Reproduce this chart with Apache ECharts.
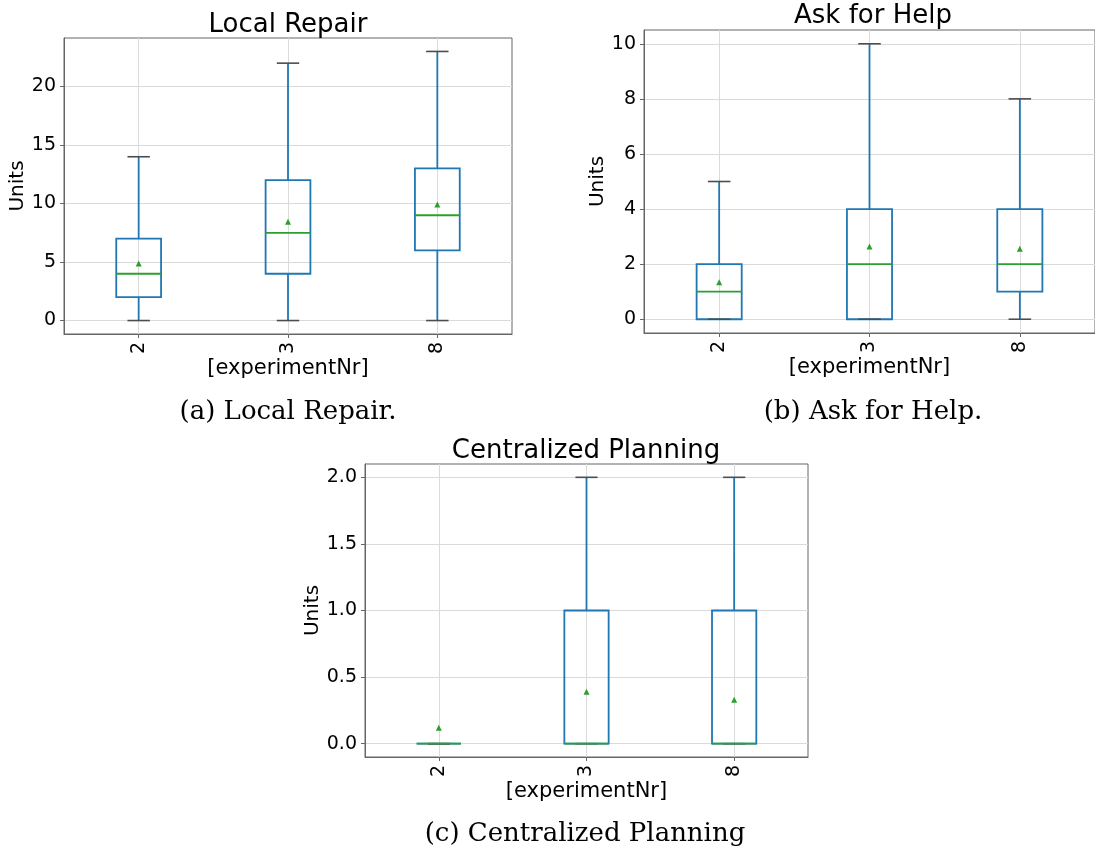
<!DOCTYPE html>
<html>
<head>
<meta charset="utf-8">
<script src="https://cdn.jsdelivr.net/npm/echarts@6/dist/echarts.min.js"></script>
<style>
html,body{margin:0;padding:0;background:#fff;}
#c{width:1095px;height:851px;}
</style>
</head>
<body>
<div id="c"></div>
<script>
// ---- data ----
const categories = ['2', '3', '8'];
// [whisker low, Q1, median, Q3, whisker high]
const localRepairBoxes = [[0, 2, 4, 7, 14], [0, 4, 7.5, 12, 22], [0, 6, 9, 13, 23]];
const localRepairMeans = [4.88, 8.45, 9.92];
const askForHelpBoxes = [[0, 0, 1, 2, 5], [0, 0, 2, 4, 10], [0, 1, 2, 4, 8]];
const askForHelpMeans = [1.34, 2.64, 2.56];
const centralizedBoxes = [[0, 0, 0, 0, 0], [0, 0, 0, 1, 2], [0, 0, 0, 1, 2]];
const centralizedMeans = [0.12, 0.39, 0.33];
const localRepairTicks = [0, 5, 10, 15, 20];
const askForHelpTicks = [0, 2, 4, 6, 8, 10];
const centralizedTicks = [0, 0.5, 1, 1.5, 2];
const panelTitles = ['Local Repair', 'Ask for Help', 'Centralized Planning'];
const captions = ['(a) Local Repair.', '(b) Ask for Help.', '(c) Centralized Planning'];
const xName = '[experimentNr]';
const yName = 'Units';

// ---- styles ----
const BLUE = '#1f77b4', GREEN = '#2ca02c', CAP = '#4d4d4d', FRAME = '#666', GRID = '#dadada';
const SANS = 'DejaVu Sans';

const panels = [
  {boxes: localRepairBoxes, means: localRepairMeans, ticks: localRepairTicks, min: -1.15, max: 24.15, fmt: v => String(v),
   grid: {left: 64, top: 38, width: 448, height: 296}, yGap: 34, xGap: 20},
  {boxes: askForHelpBoxes, means: askForHelpMeans, ticks: askForHelpTicks, min: -0.5, max: 10.5, fmt: v => String(v),
   grid: {left: 644, top: 30, width: 458, height: 303}, yGap: 36, xGap: 20},
  {boxes: centralizedBoxes, means: centralizedMeans, ticks: centralizedTicks, min: -0.1, max: 2.1, fmt: v => v.toFixed(1),
   grid: {left: 365, top: 464, width: 443, height: 293}, yGap: 40, xGap: 19}
];

function renderBox(params, api) {
  const idx = api.value(0);
  const band = api.size([1, 0])[0];
  const half = band * 0.15, capHalf = band * 0.075;
  const pLow = api.coord([idx, api.value(1)]);
  const pQ1 = api.coord([idx, api.value(2)]);
  const pMed = api.coord([idx, api.value(3)]);
  const pQ3 = api.coord([idx, api.value(4)]);
  const pHigh = api.coord([idx, api.value(5)]);
  const x = pMed[0];
  const line = (x1, y1, x2, y2, color, w) => ({type: 'line', shape: {x1, y1, x2, y2}, style: {stroke: color, lineWidth: w}});
  return {
    type: 'group',
    children: [
      {type: 'rect', shape: {x: x - half, y: pQ3[1], width: half * 2, height: pQ1[1] - pQ3[1]},
       style: {fill: 'none', stroke: BLUE, lineWidth: 1.8}},
      line(x, pQ1[1], x, pLow[1], BLUE, 1.8),
      line(x, pQ3[1], x, pHigh[1], BLUE, 1.8),
      line(x - capHalf, pLow[1], x + capHalf, pLow[1], CAP, 1.6),
      line(x - capHalf, pHigh[1], x + capHalf, pHigh[1], CAP, 1.6),
      line(x - half, pMed[1], x + half, pMed[1], GREEN, 1.8)
    ]
  };
}

const grids = [], xAxes = [], yAxes = [], series = [], graphics = [];
panels.forEach((p, i) => {
  grids.push(Object.assign({show: true, borderColor: FRAME, borderWidth: 1, backgroundColor: '#fff'}, p.grid));
  xAxes.push({
    type: 'category', gridIndex: i, data: categories,
    name: xName, nameLocation: 'middle', nameGap: p.xGap,
    nameTextStyle: {fontFamily: SANS, fontSize: 21, color: '#000'},
    axisLine: {show: true, onZero: false, lineStyle: {color: FRAME, width: 1}},
    axisTick: {show: true, alignWithLabel: true, length: 4, lineStyle: {color: FRAME}},
    axisLabel: {rotate: 90, margin: 8, fontFamily: SANS, fontSize: 19, color: '#000'},
    splitLine: {show: true, alignWithLabel: true, lineStyle: {color: GRID, width: 1}}
  });
  yAxes.push({
    type: 'value', gridIndex: i, min: p.min, max: p.max,
    name: yName, nameLocation: 'middle', nameGap: p.yGap,
    nameTextStyle: {fontFamily: SANS, fontSize: 20, color: '#000'},
    axisLine: {show: true, onZero: false, lineStyle: {color: FRAME, width: 1}},
    axisTick: {show: true, length: 4, customValues: p.ticks, lineStyle: {color: FRAME}},
    axisLabel: {customValues: p.ticks, margin: 8, fontFamily: SANS, fontSize: 19, color: '#000', formatter: p.fmt},
    splitLine: {show: true, customValues: p.ticks, lineStyle: {color: GRID, width: 1}}
  });
  series.push({
    type: 'custom', xAxisIndex: i, yAxisIndex: i, renderItem: renderBox,
    encode: {x: 0, y: [1, 2, 3, 4, 5]},
    data: p.boxes.map((b, k) => [k].concat(b)), z: 2
  });
  series.push({
    type: 'scatter', xAxisIndex: i, yAxisIndex: i, symbol: 'triangle', symbolSize: 6,
    itemStyle: {color: GREEN, opacity: 1}, z: 3,
    data: p.means.map((m, k) => [k, m])
  });
});

const titlePos = [[288, 25], [873, 16], [586, 451]];
const captionPos = [[288, 412], [873, 412], [585, 834]];
panelTitles.forEach((t, i) => {
  graphics.push({type: 'text', x: titlePos[i][0], y: titlePos[i][1],
    style: {text: t, fontFamily: SANS, fontSize: 26, fill: '#000', align: 'center', verticalAlign: 'middle'}});
  graphics.push({type: 'text', x: captionPos[i][0], y: captionPos[i][1],
    style: {text: captions[i], fontFamily: 'DejaVu Serif', fontSize: 26, fill: '#000', align: 'center', verticalAlign: 'middle'}});
});

const chart = echarts.init(document.getElementById('c'), null, {renderer: 'canvas'});
chart.setOption({
  animation: false,
  backgroundColor: '#fff',
  grid: grids, xAxis: xAxes, yAxis: yAxes, series: series, graphic: graphics
});
</script>
</body>
</html>
